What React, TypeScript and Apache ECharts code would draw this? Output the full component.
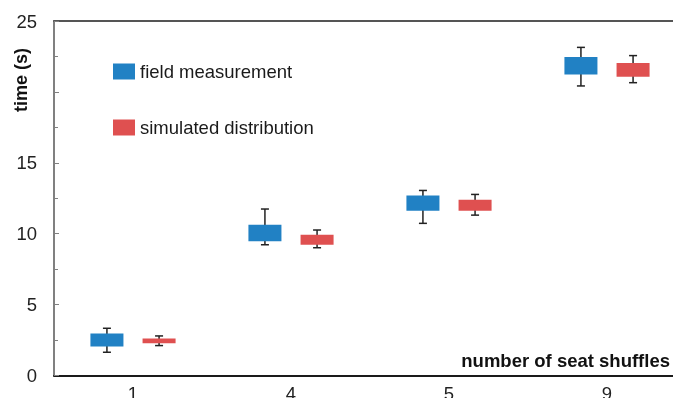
import React, { useEffect, useRef } from "react";
import * as echarts from "echarts";

const categories = ["1", "4", "5", "9"];
const fieldMin = [1.64, 9.22, 10.73, 20.42];
const fieldQ1 = [2.04, 9.46, 11.62, 21.22];
const fieldQ3 = [2.96, 10.63, 12.7, 22.46];
const fieldMax = [3.33, 11.74, 13.05, 23.14];
const simMin = [2.11, 9.01, 11.31, 20.65];
const simQ1 = [2.28, 9.22, 11.62, 21.06];
const simQ3 = [2.61, 9.93, 12.39, 22.04];
const simMax = [2.79, 10.26, 12.77, 22.56];
const yTicksHidden = [20];

const FONT = "'Liberation Sans', Arial, sans-serif";
const BLUE = "#2181C4";
const RED = "#DF5050";

function rows(mn: number[], q1: number[], q3: number[], mx: number[]) {
  return categories.map((_, i) => [i, mn[i], q1[i], q3[i], mx[i]]);
}

function makeRender(offsetFrac: number, color: string) {
  return (params: any, api: any) => {
    const i = api.value(0);
    const band = api.size([1, 0])[0];
    const cx = api.coord([i, 0])[0] + offsetFrac * band;
    const w = band * 0.209;
    const pMin = api.coord([i, api.value(1)]);
    const pQ1 = api.coord([i, api.value(2)]);
    const pQ3 = api.coord([i, api.value(3)]);
    const pMax = api.coord([i, api.value(4)]);
    const ls = { stroke: "#222", lineWidth: 1.5 };
    const cap = 4;
    return {
      type: "group",
      children: [
        { type: "line", shape: { x1: cx, y1: pMax[1], x2: cx, y2: pMin[1] }, style: ls },
        { type: "line", shape: { x1: cx - cap, y1: pMax[1], x2: cx + cap, y2: pMax[1] }, style: ls },
        { type: "line", shape: { x1: cx - cap, y1: pMin[1], x2: cx + cap, y2: pMin[1] }, style: ls },
        {
          type: "rect",
          shape: { x: cx - w / 2, y: pQ3[1], width: w, height: pQ1[1] - pQ3[1] },
          style: { fill: color },
        },
      ],
    };
  };
}

export default function App() {
  const ref = useRef<HTMLDivElement>(null);
  useEffect(() => {
    const chart = echarts.init(ref.current!, null, { renderer: "svg" });
    chart.setOption({
      animation: false,
      grid: { left: 54, top: 21, width: 632, bottom: 22.5, outerBoundsMode: "none", containLabel: false },
      legend: {
        orient: "vertical",
        left: 113,
        top: 62,
        padding: 0,
        itemWidth: 22,
        itemHeight: 16,
        itemGap: 37,
        icon: "rect",
        textStyle: { fontFamily: FONT, fontSize: 18.5, color: "#1a1a1a" },
        data: ["field measurement", "simulated distribution"],
      },
      xAxis: [
        {
          type: "category",
          data: categories,
          axisLine: { show: true, lineStyle: { color: "#1a1a1a", width: 2 } },
          axisTick: { show: false },
          axisLabel: { fontFamily: FONT, fontSize: 18.5, color: "#222", margin: 8 },
          splitLine: { show: false },
        },
        {
          type: "category",
          position: "top",
          data: categories,
          axisLine: { show: true, lineStyle: { color: "#555", width: 2 } },
          axisTick: { show: false },
          axisLabel: { show: false },
        },
      ],
      yAxis: {
        type: "value",
        min: 0,
        max: 25,
        interval: 5,
        axisLine: { show: true, lineStyle: { color: "#808080", width: 2 } },
        axisTick: { show: true, inside: true, length: 5, lineStyle: { color: "#808080" } },
        minorTick: { show: true, splitNumber: 2, length: 4, lineStyle: { color: "#808080" } },
        splitLine: { show: false },
        axisLabel: {
          fontFamily: FONT,
          fontSize: 18.5,
          color: "#222",
          margin: 17,
          formatter: (v: number) => (yTicksHidden.includes(v) ? "" : String(v)),
        },
      },
      series: [
        {
          name: "field measurement",
          type: "custom",
          itemStyle: { color: BLUE },
          renderItem: makeRender(-0.165, BLUE),
          encode: { x: 0, y: [1, 2, 3, 4] },
          data: rows(fieldMin, fieldQ1, fieldQ3, fieldMax),
        },
        {
          name: "simulated distribution",
          type: "custom",
          itemStyle: { color: RED },
          renderItem: makeRender(0.165, RED),
          encode: { x: 0, y: [1, 2, 3, 4] },
          data: rows(simMin, simQ1, simQ3, simMax),
        },
      ],
      graphic: [
        {
          type: "text",
          x: 21,
          y: 80,
          rotation: Math.PI / 2,
          style: {
            text: "time (s)",
            font: `bold 18px ${FONT}`,
            fill: "#111",
            align: "center",
            verticalAlign: "middle",
          },
        },
        {
          type: "text",
          x: 670,
          y: 360,
          style: {
            text: "number of seat shuffles",
            font: `bold 18.5px ${FONT}`,
            fill: "#111",
            align: "right",
            verticalAlign: "middle",
          },
        },
      ],
    });
    return () => chart.dispose();
  }, []);
  return (
    <div
      ref={ref}
      style={{ position: "fixed", left: 0, top: 0, width: 673, height: 398 }}
    />
  );
}
